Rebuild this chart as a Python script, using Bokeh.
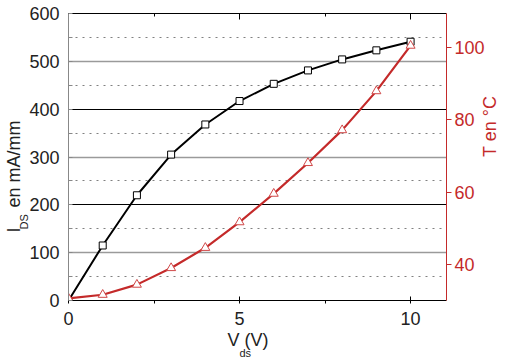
from math import pi
from bokeh.plotting import figure
from bokeh.models import (Range1d, LinearAxis, FixedTicker, Title, Grid,
                          SingleIntervalTicker)
from bokeh.embed import file_html
from bokeh.resources import INLINE

# ---- data ----
vds = [0, 1, 2, 3, 4, 5, 6, 7, 8, 9, 10]
ids = [0, 115, 220, 305, 368, 417, 453, 481, 504, 523, 541]
temp = [30.6, 31.6, 34.4, 39.0, 44.6, 51.7, 59.6, 68.1, 77.2, 88.0, 100.6]

ids_major_dark = [200, 400]
ids_major_light = [100, 300, 500]
ids_minor = [50, 150, 250, 350, 450, 550]
temp_ticks = [40, 60, 80, 100]

FONT = "Liberation Sans"
RED = "#c42a2a"
RED_MARK = "#d04848"
TXT = "#222222"
NB = "\u00a0"

p = figure(width=512, height=360, x_range=Range1d(0, 11.05), y_range=Range1d(0, 600),
           output_backend="svg", toolbar_location=None,
           min_border_left=68, min_border_right=58, min_border_top=13, min_border_bottom=60)
p.outline_line_color = None
p.background_fill_color = "white"
p.border_fill_color = "white"
p.xgrid.grid_line_color = None
p.ygrid.ticker = FixedTicker(ticks=ids_major_dark)
p.ygrid.grid_line_color = "black"
p.ygrid.grid_line_width = 1.2
p.add_layout(Grid(dimension=1, ticker=FixedTicker(ticks=ids_major_light),
                  grid_line_color="#9a9a9a", grid_line_width=1.5))
p.add_layout(Grid(dimension=1, ticker=FixedTicker(ticks=ids_minor),
                  grid_line_color="#808080", grid_line_dash="2 5", grid_line_width=1))

p.extra_y_ranges = {"t": Range1d(30, 109.5)}

# left axis
la = p.yaxis[0]
la.ticker = SingleIntervalTicker(interval=100, num_minor_ticks=2)
la.axis_line_color = "#888888"
la.major_tick_in = 0
la.major_tick_out = 0
la.minor_tick_in = 4
la.minor_tick_out = 0
la.minor_tick_line_color = "#888888"
la.major_label_standoff = 9
la.major_label_text_font = FONT
la.major_label_text_font_size = "18px"
la.major_label_text_color = TXT

# bottom axis
ba = p.xaxis[0]
ba.ticker = SingleIntervalTicker(interval=5, num_minor_ticks=2)
ba.axis_line_color = "black"
ba.major_tick_in = 4
ba.major_tick_out = 0
ba.minor_tick_in = 0
ba.minor_tick_out = 3
ba.major_label_standoff = 8
ba.major_label_text_font = FONT
ba.major_label_text_font_size = "18px"
ba.major_label_text_color = TXT

# top axis (frame line with inward ticks, labels not drawn)
ta = LinearAxis(ticker=SingleIntervalTicker(interval=5, num_minor_ticks=2))
ta.axis_line_color = "black"
ta.major_tick_in = 6
ta.major_tick_out = 0
ta.minor_tick_in = 3
ta.minor_tick_out = 0
ta.major_label_text_font_size = "1px"
ta.major_label_text_color = None
ta.major_label_standoff = 0
p.add_layout(ta, "above")

# right axis
ra = LinearAxis(y_range_name="t", ticker=FixedTicker(ticks=temp_ticks))
ra.axis_line_color = RED
ra.major_tick_line_color = RED
ra.major_tick_out = 5
ra.major_tick_in = 0
ra.minor_tick_line_color = None
ra.major_label_standoff = 3
ra.major_label_text_font = FONT
ra.major_label_text_font_size = "18px"
ra.major_label_text_color = RED
ra.axis_label = "T en °C"
ra.axis_label_orientation = pi / 2
ra.axis_label_standoff = 2
ra.axis_label_text_font = FONT
ra.axis_label_text_font_size = "18px"
ra.axis_label_text_font_style = "normal"
ra.axis_label_text_color = RED
p.add_layout(ra, "right")

# series
p.line(vds, ids, line_color="black", line_width=2)
p.scatter(vds, ids, marker="square", size=7, fill_color="white", line_color="black", line_width=1)
p.line(vds, temp, y_range_name="t", line_color=RED, line_width=2.2)
p.scatter(vds, temp, y_range_name="t", marker="triangle", size=9, fill_color="white",
          line_color=RED_MARK, line_width=1)

# axis titles with subscripts, as side titles
def side_title(text, side, size, offset, standoff, valign="bottom", color=TXT):
    t = Title(text=text, align="left", offset=offset, standoff=standoff,
              vertical_align=valign, text_font=FONT, text_font_size=size,
              text_font_style="normal", text_color=color)
    p.add_layout(t, side)

side_title("DS", "left", "11px", 71, -6)
side_title("I" + NB * 4 + "en mA/mm", "left", "18px", 68, -10)

side_title("V" + NB + "(V)", "below", "18px", 159, 0)
side_title("ds", "below", "11px", 171, -6, valign="top")

open("out.html", "w").write(file_html(p, INLINE))
